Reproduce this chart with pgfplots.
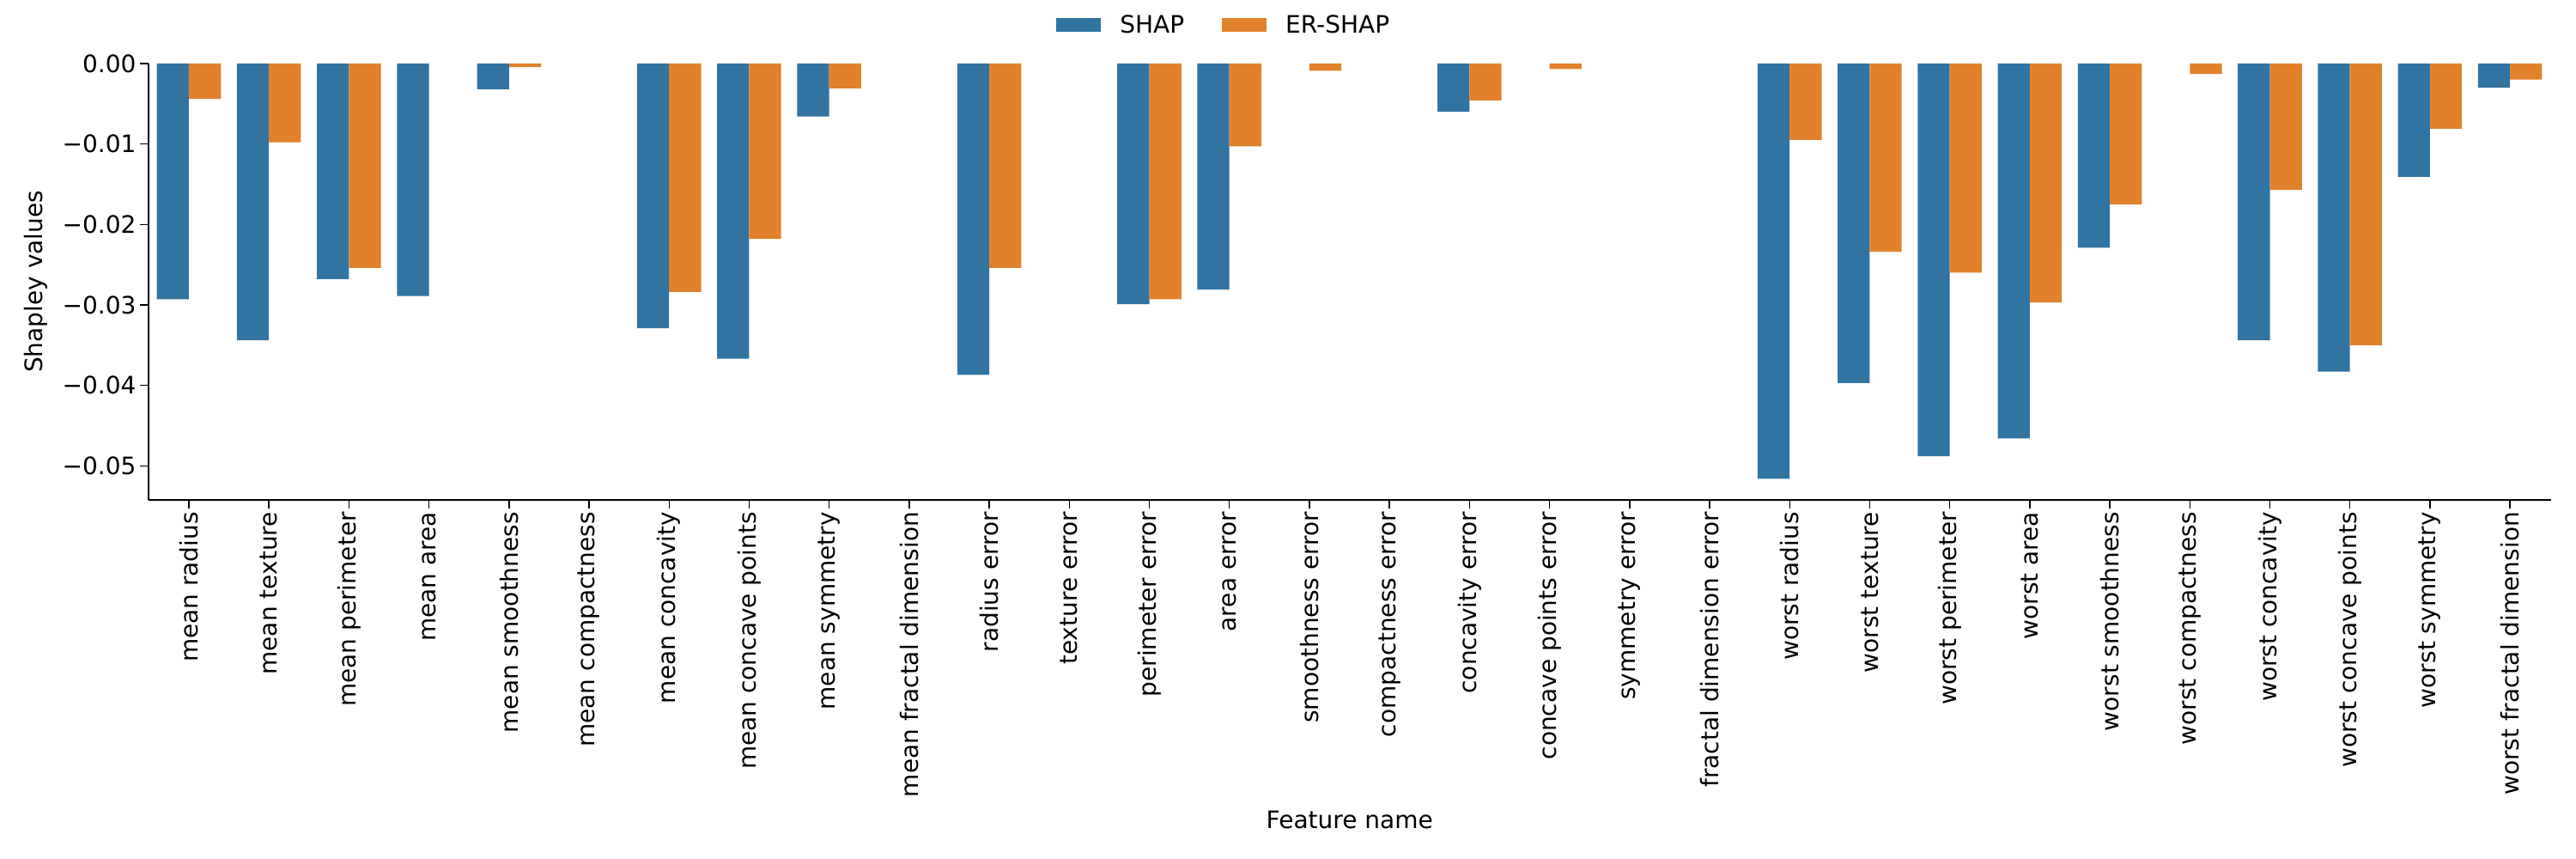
\documentclass[border=0pt]{standalone}
\usepackage{fontspec}
\setmainfont{DejaVu Sans}
\usepackage{pgfplots}
\usepackage{pgfplotstable}
\pgfplotsset{compat=1.18}

\definecolor{shapblue}{HTML}{3274A1}
\definecolor{erorange}{HTML}{E1812C}

% nan = no bar drawn for that feature
\pgfplotstableread{
idx shap er
0 -0.0293 -0.0044
1 -0.0344 -0.0098
2 -0.0268 -0.0254
3 -0.0289 nan
4 -0.0032 -0.00045
5 nan nan
6 -0.0329 -0.0284
7 -0.0367 -0.0218
8 -0.0066 -0.0031
9 nan nan
10 -0.0387 -0.0254
11 nan nan
12 -0.0299 -0.0293
13 -0.0281 -0.0103
14 nan -0.0009
15 nan nan
16 -0.0060 -0.0046
17 nan -0.0007
18 nan nan
19 nan nan
20 -0.0516 -0.0095
21 -0.0397 -0.0234
22 -0.0488 -0.0260
23 -0.0466 -0.0297
24 -0.0229 -0.0175
25 nan -0.0013
26 -0.0344 -0.0157
27 -0.0383 -0.0350
28 -0.0141 -0.0081
29 -0.0030 -0.0020
}\shapdata

\newcommand{\chartfont}{\fontsize{14}{16}\selectfont}

\begin{document}
\begin{tikzpicture}
\path[use as bounding box] (0,0) rectangle (1500pt,500pt);
\begin{axis}[
  at={(86.4pt,209.15pt)}, anchor=south west,
  scale only axis, width=1398.95pt, height=253.9pt,
  xmin=-0.506, xmax=29.51,
  ymin=-0.0542, ymax=0,
  unbounded coords=discard,
  scaled y ticks=false,
  axis x line*=bottom, axis y line*=left,
  axis line style={line width=1.1pt},
  tick align=outside, major tick length=5pt,
  tick style={line width=0.7pt, black},
  xtick={0,...,29},
  xticklabels={mean radius, mean texture, mean perimeter, mean area, mean smoothness,
    mean compactness, mean concavity, mean concave points, mean symmetry,
    mean fractal dimension, radius error, texture error, perimeter error, area error,
    smoothness error, compactness error, concavity error, concave points error,
    symmetry error, fractal dimension error, worst radius, worst texture,
    worst perimeter, worst area, worst smoothness, worst compactness,
    worst concavity, worst concave points, worst symmetry, worst fractal dimension},
  x tick label style={rotate=90, anchor=east, font=\chartfont, inner sep=2pt},
  ytick={-0.05,-0.04,-0.03,-0.02,-0.01,0},
  yticklabels={−0.05,−0.04,−0.03,−0.02,−0.01,0.00},
  y tick label style={font=\chartfont, inner sep=2pt},
  xlabel={Feature name}, ylabel={Shapley values},
  xlabel style={at={(axis description cs:0.5,-0.735)}, anchor=center, font=\chartfont},
  ylabel style={at={(axis description cs:-0.0469,0.5)}, anchor=center, font=\chartfont},
  legend columns=2,
  legend style={draw=none, at={(axis description cs:0.448,1.088)}, anchor=center,
    font=\chartfont,
    /tikz/every odd column/.append style={column sep=9pt},
    /tikz/every even column/.append style={column sep=20pt}},
  legend image code/.code={\fill[#1] (0pt,-4pt) rectangle (26pt,4pt);},
]
\addplot[ybar, bar width=0.4, bar shift=-0.2, fill=shapblue, draw=none] table[x=idx, y=shap] {\shapdata};
\addlegendentry{SHAP}
\addplot[ybar, bar width=0.4, bar shift=0.2, fill=erorange, draw=none] table[x=idx, y=er] {\shapdata};
\addlegendentry{ER-SHAP}
\end{axis}
\end{tikzpicture}
\end{document}
